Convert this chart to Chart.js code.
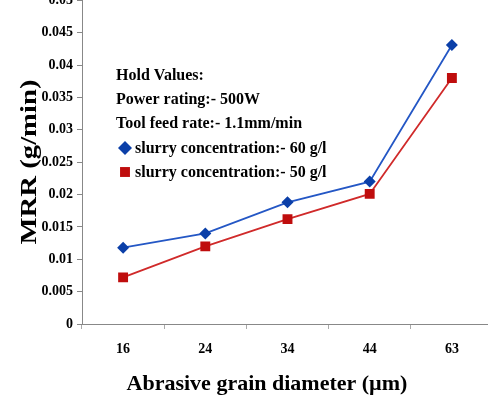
<!DOCTYPE html>
<html>
<head>
<meta charset="utf-8">
<script src="https://cdn.jsdelivr.net/npm/chart.js@4.4.1/dist/chart.umd.min.js"></script>
<style>
  html, body { margin: 0; padding: 0; background: #fff; }
  #wrap { position: relative; width: 488px; height: 396px; overflow: hidden; }
  #chart-1 { position: absolute; left: 0; top: -12px; }
</style>
</head>
<body>
<div id="wrap"><canvas id="chart-1" width="500" height="408"></canvas></div>
<script>
// abrasive grain diameter (um)
var grain_labels = ["16", "24", "34", "44", "63"];
// MRR (g/min)
var mrr_60 = [0.0118, 0.0140, 0.0188, 0.0220, 0.0431];
var mrr_50 = [0.0072, 0.0120, 0.0162, 0.0201, 0.0380];
var y_ticks = [0, 0.005, 0.01, 0.015, 0.02, 0.025, 0.03, 0.035, 0.04, 0.045, 0.05];
var hold_lines = ["Hold Values:", "Power rating:- 500W", "Tool feed rate:- 1.1mm/min"];
var series_names = ["slurry concentration:- 60 g/l", "slurry concentration:- 50 g/l"];

var serif = "'Liberation Serif', 'Times New Roman', serif";
var OFF = 12; // canvas is shifted up, top of plot cut off like the picture

var textPlugin = {
  id: "textPlugin",
  afterDraw: function (chart) {
    var ctx = chart.ctx;
    ctx.save();
    ctx.fillStyle = "#000";

    // y axis title, stretched a bit like the original
    ctx.save();
    ctx.translate(30, 162 + OFF);
    ctx.rotate(-Math.PI / 2);
    ctx.font = "bold 23px " + serif;
    var yt = "MRR (g/min)";
    var w = ctx.measureText(yt).width;
    ctx.scale(165 / w, 1);
    ctx.textAlign = "center";
    ctx.textBaseline = "middle";
    ctx.fillText(yt, 0, 0);
    ctx.restore();

    // x axis title
    ctx.font = "bold 22px " + serif;
    ctx.textAlign = "center";
    ctx.textBaseline = "alphabetic";
    ctx.fillText("Abrasive grain diameter (\u00b5m)", 267, 390 + OFF);

    // hold values box
    ctx.font = "bold 16px " + serif;
    ctx.textAlign = "left";
    var base = [80, 104, 128, 153, 177];
    for (let i = 0; i < hold_lines.length; i++) {
      ctx.fillText(hold_lines[i], 116, base[i] + OFF);
    }
    for (let j = 0; j < series_names.length; j++) {
      var ds = chart.data.datasets[j];
      var by = base[3 + j] + OFF;
      ctx.fillStyle = ds.pointBackgroundColor;
      ctx.strokeStyle = ds.pointBorderColor;
      Chart.helpers.drawPoint(ctx, {
        pointStyle: ds.pointStyle,
        radius: 7,
        rotation: 0,
        borderWidth: 0
      }, 125, by - 5);
      ctx.fillStyle = "#000";
      ctx.fillText(series_names[j], 135, by);
    }
    ctx.restore();
  }
};

const chart1 = document.getElementById("chart-1").getContext("2d");
const myChart1 = new Chart(chart1, {
  type: "line",
  data: {
    labels: grain_labels,
    datasets: [
      {
        label: series_names[0],
        data: mrr_60,
        borderColor: "#2457c5",
        borderWidth: 1.8,
        pointStyle: "rectRot",
        pointRadius: 6,
        pointBackgroundColor: "#0b3fa8",
        pointBorderColor: "#0b3fa8",
        pointBorderWidth: 0,
        tension: 0,
      },
      {
        label: series_names[1],
        data: mrr_50,
        borderColor: "#d02a2a",
        borderWidth: 1.8,
        pointStyle: "rect",
        pointRadius: 7,
        pointBackgroundColor: "#bf0d0d",
        pointBorderColor: "#bf0d0d",
        pointBorderWidth: 0,
        tension: 0,
      },
    ],
  },
  options: {
    responsive: false,
    animation: false,
    layout: { padding: { top: 10, right: 7, left: 0, bottom: 0 } },
    plugins: {
      legend: { display: false },
      tooltip: { enabled: false },
    },
    scales: {
      x: {
        offset: true,
        grid: { offset: true, drawOnChartArea: false, drawTicks: true, tickLength: 5, tickColor: "#aaa" },
        border: { color: "#888", width: 1 },
        ticks: { color: "#000", padding: 12, font: { family: serif, size: 14, weight: "bold" } },
        afterFit: function (scale) { scale.height = 72; },
      },
      y: {
        min: 0,
        max: 0.05,
        afterBuildTicks: function (scale) {
          scale.ticks = y_ticks.map(function (v) { return { value: v }; });
        },
        grid: { drawOnChartArea: false, drawTicks: true, tickLength: 5, tickColor: "#888" },
        border: { color: "#888", width: 1 },
        ticks: {
          color: "#000",
          padding: 4,
          font: { family: serif, size: 14, weight: "bold" },
          callback: function (v) { return String(parseFloat(Number(v).toFixed(3))); },
        },
        afterFit: function (scale) { scale.width = 82; },
      },
    },
  },
  plugins: [textPlugin],
});
</script>
</body>
</html>
